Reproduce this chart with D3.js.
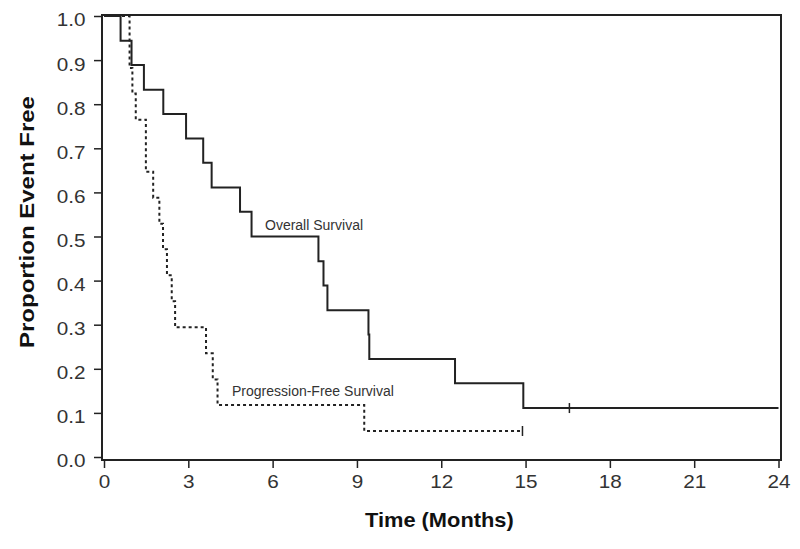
<!DOCTYPE html>
<html>
<head>
<meta charset="utf-8">
<script src="https://cdn.jsdelivr.net/npm/d3@7"></script>
<style>
  html, body { margin: 0; padding: 0; background: #fff; }
  svg { display: block; font-family: Arial, "Liberation Sans", sans-serif; }
</style>
</head>
<body>
<svg id="chart" width="800" height="549"></svg>
<script>
// ---- data ----
const xTicks = [0, 3, 6, 9, 12, 15, 18, 21, 24];
const yTicks = [0, 0.1, 0.2, 0.3, 0.4, 0.5, 0.6, 0.7, 0.8, 0.9, 1.0];

// Overall Survival (step start times, survival level after step)
const osTimes = [0, 0.59, 0.98, 1.42, 2.11, 2.92, 3.53, 3.83, 4.84, 5.25, 7.63, 7.81, 7.95, 9.41, 9.44, 12.49, 14.92];
const osSurv  = [1, 0.944, 0.889, 0.833, 0.778, 0.722, 0.667, 0.611, 0.556, 0.5, 0.444, 0.389, 0.333, 0.278, 0.222, 0.167, 0.111];
const osEnd = 24;
const osCensor = [16.56];

// Progression-Free Survival
const pfsTimes = [0, 0.91, 1.01, 1.13, 1.49, 1.75, 1.97, 2.10, 2.24, 2.41, 2.53, 3.63, 3.87, 4.04, 9.26];
const pfsSurv  = [1, 0.882, 0.824, 0.765, 0.647, 0.588, 0.529, 0.471, 0.412, 0.353, 0.294, 0.235, 0.176, 0.118, 0.059];
const pfsEnd = 14.89;
const pfsCensor = [14.89];

const labels = { os: "Overall Survival", pfs: "Progression-Free Survival",
                 xTitle: "Time (Months)", yTitle: "Proportion Event Free" };

// ---- drawing ----
const svg = d3.select("#chart");
const frame = { left: 102, right: 781, top: 15, bottom: 460 };
const x = d3.scaleLinear().domain([0, 24]).range([104, 778.5]);
const y = d3.scaleLinear().domain([0, 1]).range([457, 16]);
const ink = "#222";
const stretch = 1.15;

// frame box
svg.append("rect")
  .attr("x", frame.left).attr("y", frame.top)
  .attr("width", frame.right - frame.left).attr("height", frame.bottom - frame.top)
  .attr("fill", "none").attr("stroke", ink).attr("stroke-width", 2);

// x axis
const xAxis = d3.axisBottom(x).tickValues(xTicks).tickSize(8).tickPadding(7).tickFormat(d3.format("d"));
const gx = svg.append("g").attr("transform", `translate(0,${frame.bottom})`).call(xAxis);
gx.select(".domain").remove();
gx.selectAll(".tick line").attr("stroke", ink).attr("stroke-width", 1.5);
gx.selectAll(".tick text").attr("fill", "#333").attr("font-size", 18)
  .attr("font-family", "Arial, 'Liberation Sans', sans-serif")
  .attr("transform", `scale(${stretch},1)`);

// y axis
const yAxis = d3.axisLeft(y).tickValues(yTicks).tickSize(8).tickPadding(8).tickFormat(d3.format(".1f"));
const gy = svg.append("g").attr("transform", `translate(${frame.left},0)`).call(yAxis);
gy.select(".domain").remove();
gy.selectAll(".tick line").attr("stroke", ink).attr("stroke-width", 1.5);
gy.selectAll(".tick text").attr("fill", "#333").attr("font-size", 18)
  .attr("font-family", "Arial, 'Liberation Sans', sans-serif")
  .attr("x", -16.5 / stretch)
  .attr("dy", "0.55em")
  .attr("transform", `scale(${stretch},1)`);

// curves
function stepData(times, surv, end) {
  const pts = times.map((t, i) => [t, surv[i]]);
  pts.push([end, surv[surv.length - 1]]);
  return pts;
}
const line = d3.line().x(d => x(d[0])).y(d => y(d[1])).curve(d3.curveStepAfter);

svg.append("path").datum(stepData(osTimes, osSurv, osEnd))
  .attr("d", line).attr("fill", "none").attr("stroke", ink).attr("stroke-width", 2);

svg.append("path").datum(stepData(pfsTimes, pfsSurv, pfsEnd))
  .attr("d", line).attr("fill", "none").attr("stroke", ink).attr("stroke-width", 2)
  .attr("stroke-dasharray", "3,3");

// censor marks
svg.selectAll(".oscens").data(osCensor).enter().append("line")
  .attr("x1", d => x(d)).attr("x2", d => x(d))
  .attr("y1", y(osSurv[osSurv.length - 1]) - 5).attr("y2", y(osSurv[osSurv.length - 1]) + 5)
  .attr("stroke", ink).attr("stroke-width", 1.5);
svg.selectAll(".pfscens").data(pfsCensor).enter().append("line")
  .attr("x1", d => x(d)).attr("x2", d => x(d))
  .attr("y1", y(pfsSurv[pfsSurv.length - 1]) - 5).attr("y2", y(pfsSurv[pfsSurv.length - 1]) + 5)
  .attr("stroke", ink).attr("stroke-width", 1.5);

// curve labels
svg.append("text").attr("x", 265).attr("y", 230).attr("font-size", 14).attr("fill", "#333")
  .text(labels.os);
svg.append("text").attr("x", 232).attr("y", 396).attr("font-size", 14).attr("fill", "#333")
  .text(labels.pfs);

// axis titles
svg.append("text").attr("transform", "translate(365,527) scale(1.12,1)")
  .attr("font-size", 19.5).attr("font-weight", "bold").attr("fill", "#111")
  .text(labels.xTitle);
svg.append("text").attr("transform", "translate(34,348) rotate(-90) scale(1.2,1)")
  .attr("font-size", 20).attr("font-weight", "bold").attr("fill", "#111")
  .text(labels.yTitle);
</script>
</body>
</html>
